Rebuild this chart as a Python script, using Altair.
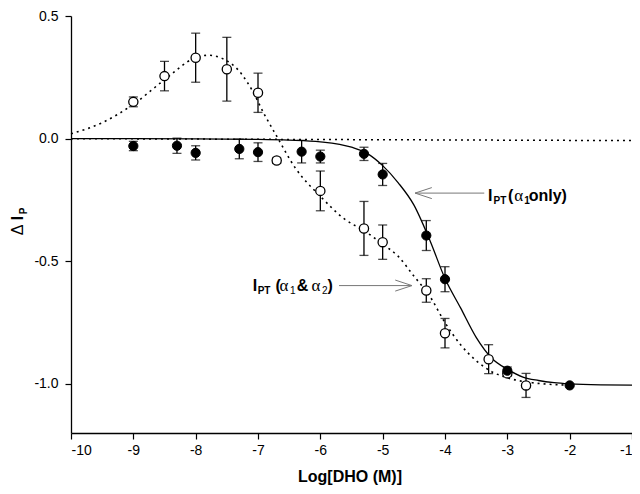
import altair as alt
import pandas as pd

# ---- data ----
filled_x = [-9, -8.3, -8, -7.3, -7, -6.3, -6, -5.3, -5, -4.3, -4, -3, -2]
filled_y = [-0.03, -0.029, -0.058, -0.042, -0.055, -0.053, -0.073, -0.062, -0.146, -0.395, -0.573, -0.946, -1.006]
filled_err = [0.019, 0.031, 0.029, 0.04, 0.038, 0.046, 0.026, 0.027, 0.045, 0.061, 0.051, 0.015, 0.0]

open_x = [-9, -8.5, -8, -7.5, -7, -6.7, -6, -5.3, -5, -4.3, -4, -3.3, -3, -2.7]
open_y = [0.15, 0.255, 0.33, 0.283, 0.187, -0.089, -0.213, -0.366, -0.422, -0.619, -0.793, -0.899, -0.957, -1.006]
open_err = [0.02, 0.06, 0.1, 0.13, 0.08, 0.012, 0.081, 0.11, 0.07, 0.048, 0.06, 0.059, 0.01, 0.049]

solid_x = [-10, -9, -8, -7, -6.5, -6, -5.5, -5.25, -5, -4.75, -4.5, -4.25, -4, -3.75,
           -3.5, -3.25, -3, -2.75, -2.5, -2.25, -2, -1.5, -1]
solid_y = [0, 0, -0.001, -0.003, -0.006, -0.013, -0.035, -0.06, -0.11, -0.18, -0.27, -0.41, -0.57, -0.69,
           -0.81, -0.895, -0.94, -0.972, -0.986, -0.995, -1.0, -1.004, -1.005]

dot_x = [-10, -9.5, -9, -8.5, -8, -7.8, -7.4, -7.1, -6.9, -6.7, -6.4, -6, -5.6, -5.3, -5,
         -4.75, -4.5, -4.25, -4, -3.75, -3.5, -3.25, -3, -2.6, -2]
dot_y = [0.02, 0.065, 0.14, 0.24, 0.33, 0.34, 0.30, 0.20, 0.10, 0.01, -0.12, -0.235, -0.33, -0.375, -0.43,
         -0.48, -0.56, -0.64, -0.75, -0.84, -0.905, -0.95, -0.975, -0.995, -1.005]

zero_x = [-10, -1]
zero_y = [0.0, -0.008]

x_ticks = [-10, -9, -8, -7, -6, -5, -4, -3, -2, -1]
y_ticks = [0.5, 0.0, -0.5, -1.0]

# annotation pieces (text, x, y, kind)
ann_text = ["I", "PT", "(", "α", "1", "only)",
            "I", "PT", "(", "α", "1", "&", "α", "2", ")"]
ann_x = [-3.310, -3.222, -2.991, -2.888, -2.729, -2.657,
         -7.085, -7.005, -6.719, -6.655, -6.488, -6.380, -6.140, -5.972, -5.886]
ann_y = [-0.254, -0.266, -0.254, -0.254, -0.266, -0.254,
         -0.622, -0.634, -0.622, -0.622, -0.634, -0.622, -0.622, -0.634, -0.622]
ann_kind = ["main", "sub", "main", "greek", "sub", "main",
            "main", "sub", "main", "greek", "subr", "main", "greek", "subr", "main"]

arrow_x1 = [-4.48, -5.70]
arrow_x2 = [-3.37, -4.53]
arrow_y = [-0.222, -0.599]

# ---- tables ----
filled = pd.DataFrame({"x": filled_x, "y": filled_y, "err": filled_err})
filled["lo"] = filled["y"] - filled["err"]
filled["hi"] = filled["y"] + filled["err"]
opn = pd.DataFrame({"x": open_x, "y": open_y, "err": open_err})
opn["lo"] = opn["y"] - opn["err"]
opn["hi"] = opn["y"] + opn["err"]
errs = pd.concat([filled[filled["err"] > 0], opn])
solid = pd.DataFrame({"x": solid_x, "y": solid_y})
dotted = pd.DataFrame({"x": dot_x, "y": dot_y})
zero = pd.DataFrame({"x": zero_x, "y": zero_y})
ann = pd.DataFrame({"text": ann_text, "x": ann_x, "y": ann_y, "kind": ann_kind})
arrows = pd.DataFrame({"x": arrow_x1, "x2": arrow_x2, "y": arrow_y})

FONT = "Liberation Sans"

xs = alt.Scale(domain=[-10, -1], nice=False, zero=False)
ys = alt.Scale(domain=[-1.2, 0.5], nice=False, zero=False)
x_axis = alt.Axis(values=x_ticks, title=None, grid=False, tickSize=6, labelPadding=4,
                  labelExpr="replace(format(datum.value, 'd'), '\u2212', '-')",
                  labelFont=FONT, labelFontSize=14, labelColor="black",
                  domainColor="black", tickColor="black", domainWidth=1.3, tickWidth=1.2)
y_axis = alt.Axis(values=y_ticks, title=None, grid=False, tickSize=6, labelPadding=7,
                  labelExpr="replace(format(datum.value, '.1f'), '\u2212', '-')",
                  labelFont=FONT, labelFontSize=14, labelColor="black",
                  domainColor="black", tickColor="black", domainWidth=1.3, tickWidth=1.2)
X = alt.X("x:Q", scale=xs, axis=x_axis)
Y = alt.Y("y:Q", scale=ys, axis=y_axis)

zero_line = alt.Chart(zero).mark_line(color="black", strokeDash=[2, 4], strokeWidth=1.5).encode(x=X, y=Y)
dot_line = alt.Chart(dotted).mark_line(color="black", strokeDash=[2, 4], strokeWidth=1.6,
                                       interpolate="monotone").encode(x=X, y=Y)
solid_line = alt.Chart(solid).mark_line(color="black", strokeWidth=1.3,
                                        interpolate="monotone").encode(x=X, y=Y)

err_rule = alt.Chart(errs).mark_rule(color="black", strokeWidth=1.3).encode(
    x=X, y=alt.Y("lo:Q", scale=ys, axis=y_axis), y2="hi:Q")
err_lo = alt.Chart(errs).mark_tick(color="black", orient="horizontal", size=9, thickness=1.3).encode(
    x=X, y=alt.Y("lo:Q", scale=ys, axis=y_axis))
err_hi = alt.Chart(errs).mark_tick(color="black", orient="horizontal", size=9, thickness=1.3).encode(
    x=X, y=alt.Y("hi:Q", scale=ys, axis=y_axis))

pts_open = alt.Chart(opn).mark_point(shape="circle", filled=True, fill="white", stroke="black",
                                     strokeWidth=1.3, size=85, opacity=1).encode(x=X, y=Y)
pts_filled = alt.Chart(filled).mark_point(shape="circle", filled=True, fill="black", stroke="black",
                                          strokeWidth=1.0, size=85, opacity=1).encode(x=X, y=Y)

arrow_lines = alt.Chart(arrows).mark_rule(color="#777777", strokeWidth=1).encode(x=X, x2="x2:Q", y=Y)
head_left = alt.Chart(arrows.iloc[[0]]).mark_point(
    shape="M2,-0.66L0,0L2,0.66", filled=False, stroke="#777777", strokeWidth=1, size=280, opacity=1
).encode(x=X, y=Y)
head_right = alt.Chart(arrows.iloc[[1]].assign(x=lambda d: d["x2"])).mark_point(
    shape="M-2,-0.66L0,0L-2,0.66", filled=False, stroke="#777777", strokeWidth=1, size=280, opacity=1
).encode(x=X, y=Y)

def ann_layer(kind, **kw):
    return alt.Chart(ann[ann["kind"] == kind]).mark_text(
        align="left", baseline="alphabetic", color="black", **kw
    ).encode(x=X, y=Y, text="text:N")

t_main = ann_layer("main", font=FONT, fontSize=16, fontWeight="bold")
t_sub = ann_layer("sub", font=FONT, fontSize=10, fontWeight="bold")
t_greek = ann_layer("greek", font="Liberation Serif", fontSize=17)
t_subr = ann_layer("subr", font=FONT, fontSize=10)

one = pd.DataFrame({"t": [""]})
xtitle = alt.Chart(one).mark_text(text="Log[DHO (M)]", font=FONT, fontSize=16, fontWeight="bold",
                                  align="center", baseline="alphabetic", color="black").encode(
    x=alt.value(279), y=alt.value(466))
ytitle_delta = alt.Chart(one).mark_text(text="Δ", font=FONT, fontSize=16, angle=270,
                                        align="center", baseline="alphabetic", color="black").encode(
    x=alt.value(-48), y=alt.value(214))
ytitle_i = alt.Chart(one).mark_text(text="I", font=FONT, fontSize=16, fontWeight="bold", angle=270,
                                    align="center", baseline="alphabetic", color="black").encode(
    x=alt.value(-48), y=alt.value(202))
ytitle_p = alt.Chart(one).mark_text(text="P", font=FONT, fontSize=10, fontWeight="bold", angle=270,
                                    align="center", baseline="alphabetic", color="black").encode(
    x=alt.value(-44), y=alt.value(195))

chart = alt.layer(
    zero_line, dot_line, solid_line, err_rule, err_lo, err_hi, pts_open, pts_filled,
    arrow_lines, head_left, head_right, t_main, t_sub, t_greek, t_subr,
    xtitle, ytitle_delta, ytitle_i, ytitle_p
).properties(
    width=561, height=417,
    padding={"left": 63, "top": 8, "right": 0, "bottom": 53},
    autosize="none",
    background="white",
).configure_view(stroke=None)

chart.save("out.html", embed_options={"renderer": "svg", "actions": False})
